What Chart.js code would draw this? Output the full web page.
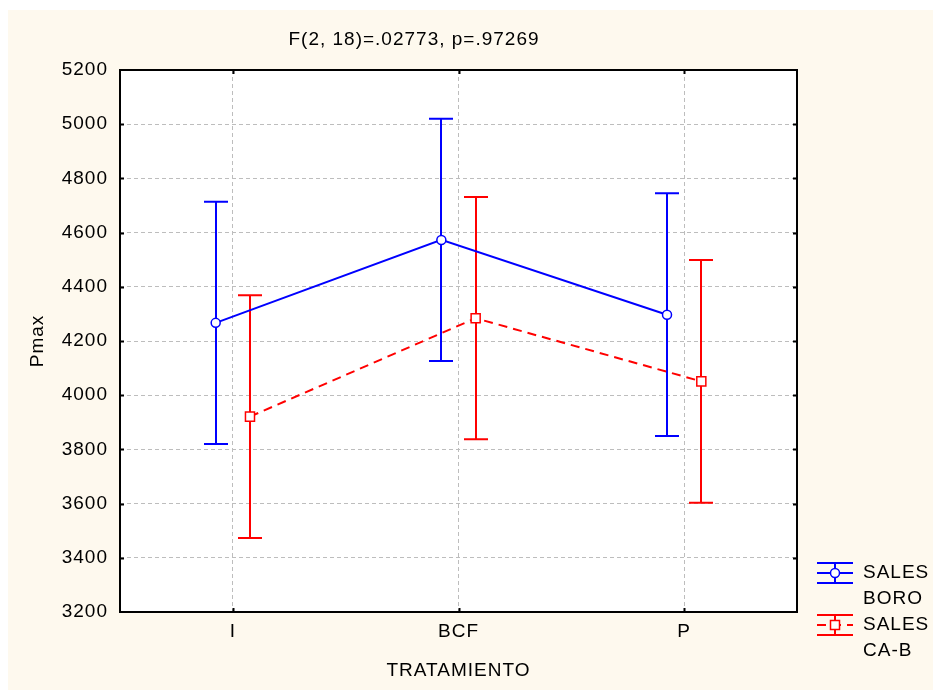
<!DOCTYPE html>
<html>
<head>
<meta charset="utf-8">
<title>Pmax por tratamiento</title>
<script src="https://cdn.jsdelivr.net/npm/chart.js@4.4.0/dist/chart.umd.min.js"></script>
<style>
  html, body { margin: 0; padding: 0; background: #ffffff; }
  canvas { display: block; }
</style>
</head>
<body>
<canvas id="pmaxChart" width="933" height="691"></canvas>
<script>
// treatment groups and the two salt series (means and 95% half-widths)
const categories = ["I", "BCF", "P"];
const seriesLabels = ["SALES BORO", "SALES CA-B"];
const boroMeans = [4267, 4573, 4297];
const boroHalfWidth = [447, 447, 448];
const cabMeans = [3921, 4284, 4051];
const cabHalfWidth = [448, 447, 448];
const yMin = 3200;
const yMax = 5200;
const yStep = 200;
const statsTitle = "F(2, 18)=.02773, p=.97269";
const xTitle = "TRATAMIENTO";
const yTitle = "Pmax";

const FONT = "'Liberation Sans', Arial, sans-serif";
const BLUE = "#0000ff";
const RED = "#ff0000";
const CREAM = "#fef9ee";
const shift = 0.076; // side-by-side offset of the two series inside a group

const toPoints = (means, half, dx) =>
  means.map((m, i) => ({ x: i + 0.5 + dx, y: m, err: half[i] }));

// page background, plot fill and letter spacing for all text
const frame = {
  id: "frame",
  beforeDraw(chart) {
    const { ctx, chartArea: a } = chart;
    ctx.save();
    ctx.fillStyle = "#ffffff";
    ctx.fillRect(0, 0, chart.width, chart.height);
    ctx.fillStyle = CREAM;
    ctx.fillRect(8, 10, chart.width - 8, chart.height - 11);
    ctx.fillStyle = "#ffffff";
    ctx.fillRect(a.left, a.top, a.right - a.left, a.bottom - a.top);
    ctx.restore();
    ctx.letterSpacing = "1px";
  },
  afterDraw(chart) {
    const { ctx, chartArea: a } = chart;
    const xs = chart.scales.x;
    const ys = chart.scales.y;
    ctx.save();
    ctx.strokeStyle = "#000000";
    ctx.lineWidth = 2;
    ctx.strokeRect(a.left, a.top, a.right - a.left, a.bottom - a.top);

    // short inner ticks on all four sides
    ctx.beginPath();
    for (let v = yMin + yStep; v < yMax; v += yStep) {
      const y = Math.round(ys.getPixelForValue(v)) + 0.5;
      ctx.moveTo(a.left, y);
      ctx.lineTo(a.left + 4, y);
      ctx.moveTo(a.right, y);
      ctx.lineTo(a.right - 4, y);
    }
    categories.forEach((c, i) => {
      const x = Math.round(xs.getPixelForValue(i + 0.5)) + 0.5;
      ctx.moveTo(x, a.top);
      ctx.lineTo(x, a.top + 4);
      ctx.moveTo(x, a.bottom);
      ctx.lineTo(x, a.bottom - 4);
    });
    ctx.stroke();

    // statistics line above the plot
    ctx.fillStyle = "#000000";
    ctx.font = "19px " + FONT;
    ctx.textAlign = "center";
    ctx.textBaseline = "middle";
    ctx.fillText(statsTitle, 414, 40);

    // legend: whisker symbol plus two-line label
    chart.data.datasets.forEach((ds, k) => {
      const cy = 573 + k * 52;
      const x0 = 817;
      const x1 = 853;
      const xc = (x0 + x1) / 2;
      ctx.strokeStyle = ds.borderColor;
      ctx.lineWidth = 2;
      ctx.setLineDash([]);
      ctx.beginPath();
      ctx.moveTo(x0, cy - 10);
      ctx.lineTo(x1, cy - 10);
      ctx.moveTo(x0, cy + 10);
      ctx.lineTo(x1, cy + 10);
      ctx.moveTo(xc, cy - 10);
      ctx.lineTo(xc, cy + 10);
      ctx.stroke();
      ctx.setLineDash(ds.borderDash || []);
      ctx.beginPath();
      ctx.moveTo(x0, cy);
      ctx.lineTo(x1, cy);
      ctx.stroke();
      ctx.setLineDash([]);
      ctx.fillStyle = "#ffffff";
      ctx.lineWidth = 1.5;
      ctx.beginPath();
      if (ds.pointStyle === "rect") {
        ctx.rect(xc - 4.5, cy - 4.5, 9, 9);
      } else {
        ctx.arc(xc, cy, 4.5, 0, Math.PI * 2);
      }
      ctx.fill();
      ctx.stroke();
      ctx.fillStyle = "#000000";
      ctx.textAlign = "left";
      ds.label.split(" ").forEach((word, j) => {
        ctx.fillText(word, 863, cy + j * 26);
      });
    });
    ctx.restore();
  },
};

// vertical confidence whiskers for every point
const errorBars = {
  id: "errorBars",
  beforeDatasetsDraw(chart) {
    const { ctx } = chart;
    const xs = chart.scales.x;
    const ys = chart.scales.y;
    chart.data.datasets.forEach((ds) => {
      ctx.save();
      ctx.strokeStyle = ds.borderColor;
      ctx.lineWidth = 2;
      ds.data.forEach((p) => {
        const x = Math.round(xs.getPixelForValue(p.x));
        const top = ys.getPixelForValue(p.y + p.err);
        const bot = ys.getPixelForValue(p.y - p.err);
        ctx.beginPath();
        ctx.moveTo(x, top);
        ctx.lineTo(x, bot);
        ctx.moveTo(x - 12, top);
        ctx.lineTo(x + 12, top);
        ctx.moveTo(x - 12, bot);
        ctx.lineTo(x + 12, bot);
        ctx.stroke();
      });
      ctx.restore();
    });
  },
};

new Chart("pmaxChart", {
  type: "scatter",
  data: {
    datasets: [
      {
        label: seriesLabels[0],
        data: toPoints(boroMeans, boroHalfWidth, -shift),
        showLine: true,
        borderColor: BLUE,
        borderWidth: 2,
        pointStyle: "circle",
        pointRadius: 4.5,
        pointBorderWidth: 1.5,
        pointBackgroundColor: "#ffffff",
        pointBorderColor: BLUE,
      },
      {
        label: seriesLabels[1],
        data: toPoints(cabMeans, cabHalfWidth, shift),
        showLine: true,
        borderColor: RED,
        borderWidth: 2,
        borderDash: [9, 6],
        pointStyle: "rect",
        pointRadius: 6.4,
        pointBorderWidth: 1.5,
        pointBackgroundColor: "#ffffff",
        pointBorderColor: RED,
      },
    ],
  },
  options: {
    responsive: false,
    animation: false,
    devicePixelRatio: 1,
    layout: { padding: { top: 70, right: 136, left: 0, bottom: 0 } },
    plugins: {
      legend: { display: false },
      tooltip: { enabled: false },
    },
    scales: {
      x: {
        type: "linear",
        min: 0,
        max: categories.length,
        afterBuildTicks: (scale) => {
          scale.ticks = categories.map((c, i) => ({ value: i + 0.5 }));
        },
        afterFit: (scale) => {
          scale.height = 79;
        },
        ticks: {
          color: "#000000",
          font: { family: FONT, size: 19 },
          padding: 8,
          callback: (value, index) => categories[index],
        },
        grid: { color: "#bdbdbd", lineWidth: 1, drawTicks: false },
        border: { display: false, dash: [4, 3] },
        title: {
          display: true,
          text: xTitle,
          color: "#000000",
          font: { family: FONT, size: 19 },
          padding: { top: 0, bottom: 9 },
        },
      },
      y: {
        min: yMin,
        max: yMax,
        afterFit: (scale) => {
          scale.width = 120;
        },
        ticks: {
          stepSize: yStep,
          color: "#000000",
          font: { family: FONT, size: 19 },
          padding: 12,
          callback: (value) => String(value),
        },
        grid: { color: "#bdbdbd", lineWidth: 1, drawTicks: false },
        border: { display: false, dash: [4, 3] },
        title: {
          display: true,
          text: yTitle,
          color: "#000000",
          font: { family: FONT, size: 19 },
          padding: { top: 26, bottom: 0 },
        },
      },
    },
  },
  plugins: [frame, errorBars],
});
</script>
</body>
</html>
